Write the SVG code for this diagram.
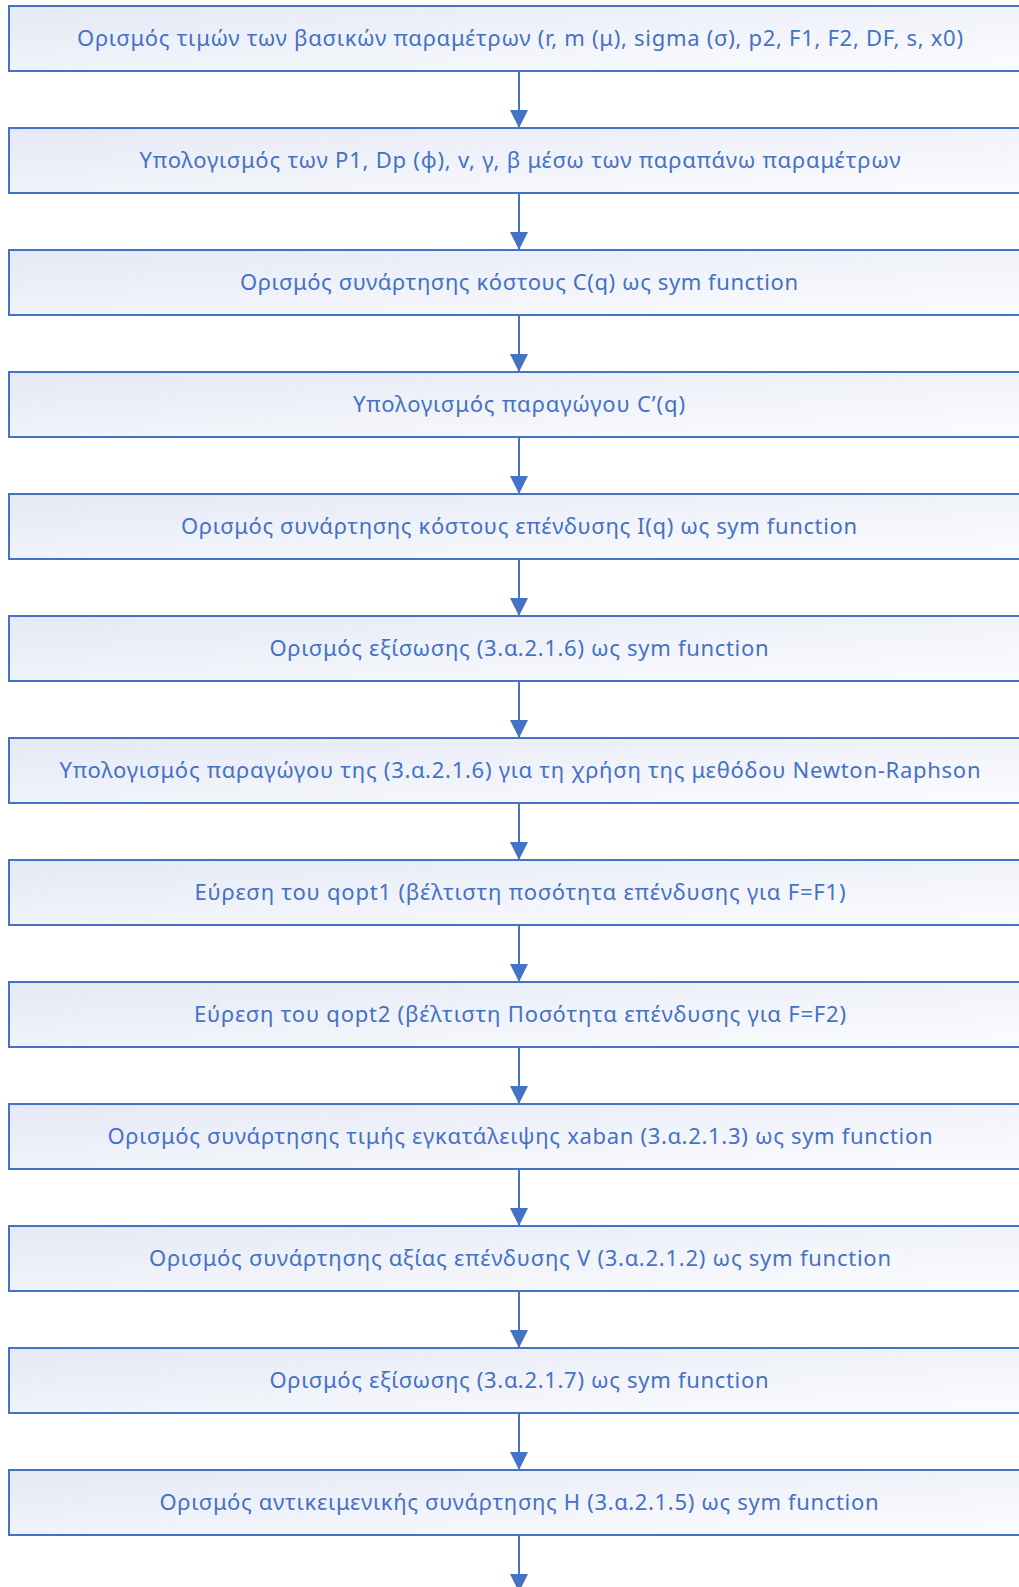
<svg xmlns="http://www.w3.org/2000/svg" width="1019" height="1587" viewBox="0 0 1019 1587">
  <defs>
    <linearGradient id="boxFill" x1="0" y1="0" x2="1" y2="1">
      <stop offset="0" stop-color="#e4e9f5"/>
      <stop offset="0.5" stop-color="#f1f3fa"/>
      <stop offset="1" stop-color="#fbfcfe"/>
    </linearGradient>
    <marker id="arrow" viewBox="0 0 18 18" refX="18" refY="9" markerWidth="18" markerHeight="18" markerUnits="userSpaceOnUse" orient="auto">
      <path d="M0,0 L18,9 L0,18 Z" fill="#4472c4"/>
    </marker>
  </defs>
  <style>
    .box { fill: url(#boxFill); stroke: #4472c4; stroke-width: 2; }
    .label { font-family: "Noto Sans", "Open Sans", sans-serif; font-size: 22px; fill: #4472c4; }
    .conn { stroke: #4472c4; stroke-width: 2; fill: none; marker-end: url(#arrow); }
  </style>
  <rect width="1019" height="1587" fill="#ffffff"/>

  <g id="connectors">
    <path class="conn" d="M519,71 L519,128"/>
    <path class="conn" d="M519,193 L519,250"/>
    <path class="conn" d="M519,315 L519,372"/>
    <path class="conn" d="M519,437 L519,494"/>
    <path class="conn" d="M519,559 L519,616"/>
    <path class="conn" d="M519,681 L519,738"/>
    <path class="conn" d="M519,803 L519,860"/>
    <path class="conn" d="M519,925 L519,982"/>
    <path class="conn" d="M519,1047 L519,1104"/>
    <path class="conn" d="M519,1169 L519,1226"/>
    <path class="conn" d="M519,1291 L519,1348"/>
    <path class="conn" d="M519,1413 L519,1470"/>
    <path class="conn" d="M519,1535 L519,1592"/>
  </g>

  <g id="n1">
    <rect class="box" x="9" y="6" width="1030" height="65"/>
    <text class="label" x="520" y="46" text-anchor="middle" textLength="886" lengthAdjust="spacing">Ορισμός τιμών των βασικών παραμέτρων (r, m (μ), sigma (σ), p2, F1, F2, DF, s, x0)</text>
  </g>
  <g id="n2">
    <rect class="box" x="9" y="128" width="1030" height="65"/>
    <text class="label" x="520" y="168" text-anchor="middle" textLength="761" lengthAdjust="spacing">Υπολογισμός των P1, Dp (ϕ), v, γ, β μέσω των παραπάνω παραμέτρων</text>
  </g>
  <g id="n3">
    <rect class="box" x="9" y="250" width="1030" height="65"/>
    <text class="label" x="519" y="290" text-anchor="middle" textLength="558" lengthAdjust="spacing">Ορισμός συνάρτησης κόστους C(q) ως sym function</text>
  </g>
  <g id="n4">
    <rect class="box" x="9" y="372" width="1030" height="65"/>
    <text class="label" x="519" y="412" text-anchor="middle" textLength="332" lengthAdjust="spacing">Υπολογισμός παραγώγου C’(q)</text>
  </g>
  <g id="n5">
    <rect class="box" x="9" y="494" width="1030" height="65"/>
    <text class="label" x="519" y="534" text-anchor="middle" textLength="676" lengthAdjust="spacing">Ορισμός συνάρτησης κόστους επένδυσης I(q) ως sym function</text>
  </g>
  <g id="n6">
    <rect class="box" x="9" y="616" width="1030" height="65"/>
    <text class="label" x="519" y="656" text-anchor="middle" textLength="499" lengthAdjust="spacing">Ορισμός εξίσωσης (3.α.2.1.6) ως sym function</text>
  </g>
  <g id="n7">
    <rect class="box" x="9" y="738" width="1030" height="65"/>
    <text class="label" x="520" y="778" text-anchor="middle" textLength="921" lengthAdjust="spacing">Υπολογισμός παραγώγου της (3.α.2.1.6) για τη χρήση της μεθόδου Newton-Raphson</text>
  </g>
  <g id="n8">
    <rect class="box" x="9" y="860" width="1030" height="65"/>
    <text class="label" x="520" y="900" text-anchor="middle" textLength="651" lengthAdjust="spacing">Εύρεση του qopt1 (βέλτιστη ποσότητα επένδυσης για F=F1)</text>
  </g>
  <g id="n9">
    <rect class="box" x="9" y="982" width="1030" height="65"/>
    <text class="label" x="520" y="1022" text-anchor="middle" textLength="652" lengthAdjust="spacing">Εύρεση του qopt2 (βέλτιστη Ποσότητα επένδυσης για F=F2)</text>
  </g>
  <g id="n10">
    <rect class="box" x="9" y="1104" width="1030" height="65"/>
    <text class="label" x="520" y="1144" text-anchor="middle" textLength="825" lengthAdjust="spacing">Ορισμός συνάρτησης τιμής εγκατάλειψης xaban (3.α.2.1.3) ως sym function</text>
  </g>
  <g id="n11">
    <rect class="box" x="9" y="1226" width="1030" height="65"/>
    <text class="label" x="520" y="1266" text-anchor="middle" textLength="742" lengthAdjust="spacing">Ορισμός συνάρτησης αξίας επένδυσης V (3.α.2.1.2) ως sym function</text>
  </g>
  <g id="n12">
    <rect class="box" x="9" y="1348" width="1030" height="65"/>
    <text class="label" x="519" y="1388" text-anchor="middle" textLength="499" lengthAdjust="spacing">Ορισμός εξίσωσης (3.α.2.1.7) ως sym function</text>
  </g>
  <g id="n13">
    <rect class="box" x="9" y="1470" width="1030" height="65"/>
    <text class="label" x="519" y="1510" text-anchor="middle" textLength="719" lengthAdjust="spacing">Ορισμός αντικειμενικής συνάρτησης H (3.α.2.1.5) ως sym function</text>
  </g>
</svg>
